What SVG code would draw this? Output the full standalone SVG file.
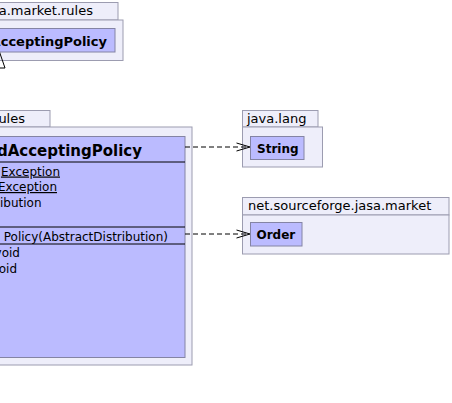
<svg xmlns="http://www.w3.org/2000/svg" width="452" height="403" viewBox="0 0 452 403">
<style>
.pkg{fill:#EEEEFA;stroke:#9C9CB0;stroke-width:1}
.cls{fill:#BBBBFF;stroke:#8484A4;stroke-width:1}
.sep{stroke:#000;stroke-width:1}
.t{font-family:"DejaVu Sans",sans-serif;font-size:12px;fill:#000}
.p{font-family:"DejaVu Sans",sans-serif;font-size:13px;fill:#000}
.b{font-family:"DejaVu Sans",sans-serif;font-weight:bold;fill:#000}
.dep{stroke:#000;stroke-width:1;fill:none;stroke-dasharray:5,3}
.head{stroke:#000;stroke-width:1;fill:none}
</style>
<rect width="452" height="403" fill="#FFFFFF"/>
<g id="pkg-market-rules-top">
<rect class="pkg" x="-100" y="2.5" width="218" height="17.5"/>
<rect class="pkg" x="-100" y="20" width="223" height="40.5"/>
<text class="p" x="93" y="15" font-size="12.5" text-anchor="end">sa.market.rules</text>
</g>
<g id="class-AcceptingPolicy">
<rect class="cls" x="-100" y="28.5" width="215" height="23.5"/>
<text class="b" x="107" y="45.5" font-size="13" text-anchor="end">AcceptingPolicy</text>
</g>
<g id="pkg-rules-bottom">
<rect class="pkg" x="-100" y="110.5" width="150" height="16.5"/>
<rect class="pkg" x="-100" y="127" width="292" height="238"/>
<text class="p" x="25" y="123" text-anchor="end">ules</text>
</g>
<g id="class-main">
<rect class="cls" x="-100" y="136.5" width="285" height="221"/>
<text class="b" x="142" y="155.5" font-size="15" text-anchor="end">dAcceptingPolicy</text>
<line class="sep" x1="-100" y1="162" x2="185" y2="162"/>
<text class="t" x="60" y="175.5" text-anchor="end" text-decoration="underline">Exception</text>
<text class="t" x="57" y="191" text-anchor="end" text-decoration="underline">Exception</text>
<text class="t" x="41.5" y="206.5" text-anchor="end">ibution</text>
<line class="sep" x1="-100" y1="227" x2="185" y2="227"/>
<text class="t" x="168" y="241" text-anchor="end">Policy(AbstractDistribution)</text>
<line class="sep" x1="-100" y1="244" x2="185" y2="244"/>
<text class="t" x="20" y="257" text-anchor="end">void</text>
<text class="t" x="17" y="272.5" text-anchor="end">oid</text>
</g>
<g id="pkg-java-lang">
<rect class="pkg" x="242.5" y="110.5" width="75.5" height="16.5"/>
<rect class="pkg" x="242.5" y="127" width="80" height="40"/>
<text class="p" x="247" y="123">java.lang</text>
</g>
<g id="class-String">
<rect class="cls" x="250.5" y="136.5" width="53.5" height="23"/>
<text class="b" x="257" y="152.5" font-size="12">String</text>
</g>
<g id="pkg-jasa-market">
<rect class="pkg" x="242.5" y="197.5" width="206.5" height="17.5"/>
<rect class="pkg" x="242.5" y="215" width="206.5" height="39"/>
<text class="p" x="248" y="210">net.sourceforge.jasa.market</text>
</g>
<g id="class-Order">
<rect class="cls" x="250.5" y="222.5" width="51.5" height="23.5"/>
<text class="b" x="256.5" y="238.5" font-size="12">Order</text>
</g>
<g id="connectors">
<polyline class="head" points="-0.5,52 -6,68 5,68 -0.5,52"/>
<line class="dep" x1="185" y1="147" x2="249" y2="147"/>
<polyline class="head" points="236.5,143 250,147 236.5,151"/>
<line class="dep" x1="185" y1="234" x2="249" y2="234"/>
<polyline class="head" points="236.5,230 250,234 236.5,238"/>
</g>
</svg>
